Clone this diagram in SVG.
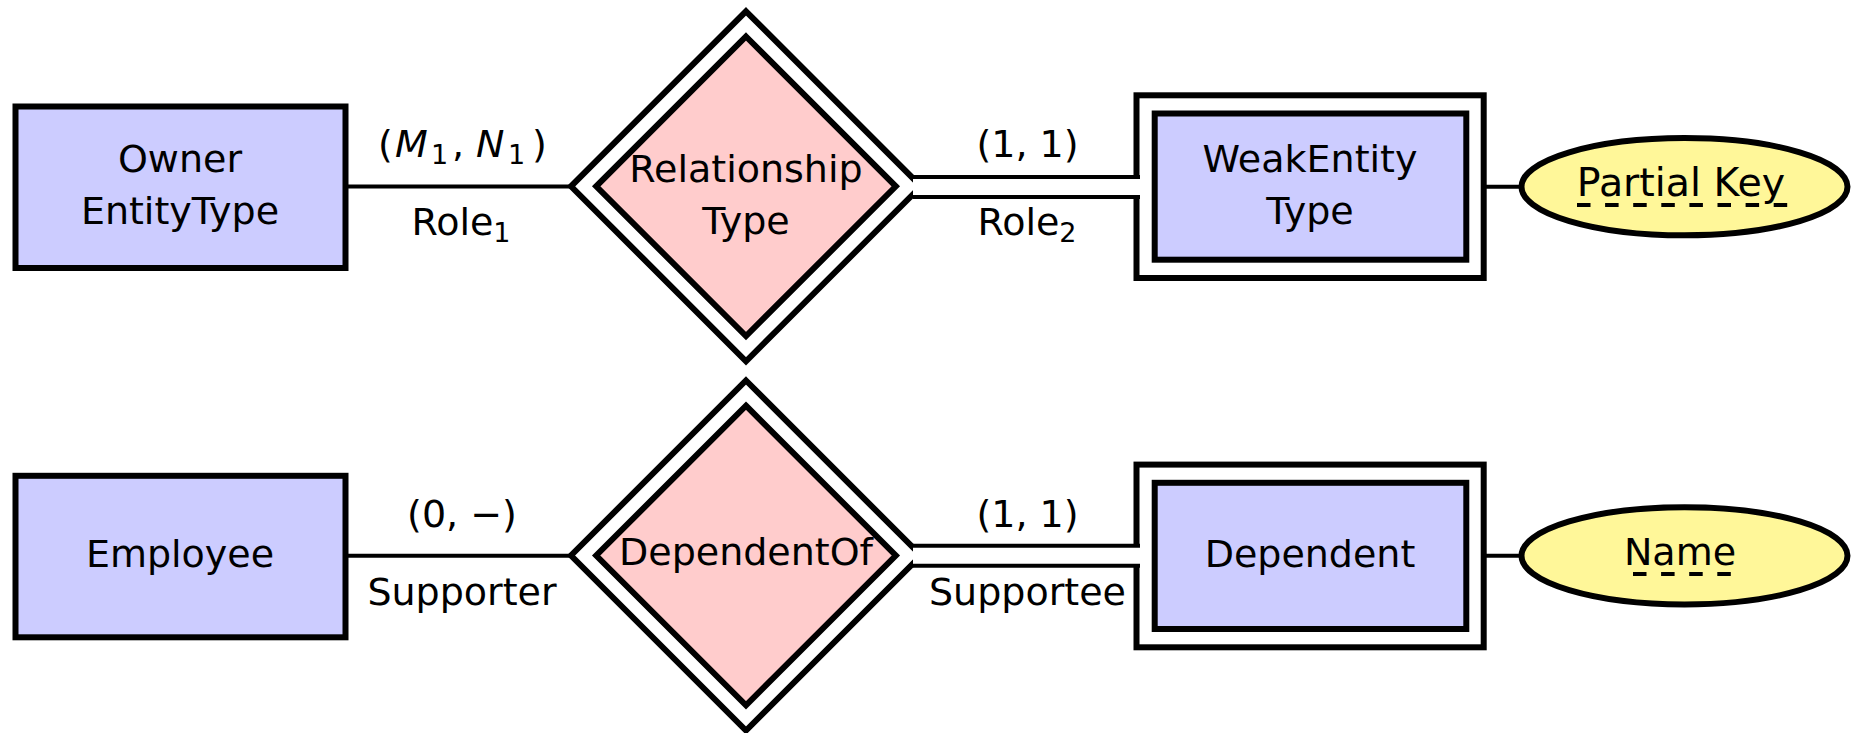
<svg xmlns="http://www.w3.org/2000/svg" width="1852" height="733" viewBox="0 0 1852 733">
<style>
  text { font-family: "DejaVu Sans", "Liberation Sans", sans-serif; font-size: 38px; fill: #000; }
  .mid { text-anchor: middle; }
  .sub { font-size: 27px; }
  .it { font-style: italic; }
  .key { font-size: 39.5px; }
  .entity { fill: #CCCCFF; stroke: #000; stroke-width: 6; }
  .weakouter { fill: #FFFFFF; stroke: #000; stroke-width: 6; }
  .rel { fill: #FFCCCC; stroke: #000; stroke-width: 6; stroke-linejoin: miter; stroke-miterlimit: 10; }
  .relouter { fill: #FFFFFF; stroke: #000; stroke-width: 6; stroke-linejoin: miter; stroke-miterlimit: 10; }
  .attr { fill: #FFF799; stroke: #000; stroke-width: 6; }
  .line { stroke: #000; stroke-width: 4; fill: none; }
  .dblk { stroke: #000; stroke-width: 24; fill: none; }
  .dblw { stroke: #FFFFFF; stroke-width: 16; fill: none; }
  .ul { stroke: #000; stroke-width: 4; stroke-dasharray: 13.5 14.6; fill: none; }
</style>

<!-- Top row -->
<g id="owner">
  <rect class="entity" x="15.5" y="106.5" width="330" height="161.5"/>
  <text class="mid" x="180" y="172">Owner</text>
  <text class="mid" x="180" y="224">EntityType</text>
</g>

<g id="relationship">
  <polygon class="relouter" points="746,11.3 921,186.3 746,361.3 571,186.3"/>
  <polygon class="rel" points="746,36.5 895.8,186.3 746,336.1 596.2,186.3"/>
  <text class="mid" x="746" y="182">Relationship</text>
  <text class="mid" x="746" y="233.5">Type</text>
</g>

<g id="weakentity">
  <rect class="weakouter" x="1136.5" y="95.3" width="347.2" height="182.7"/>
  <rect class="entity" x="1154.7" y="113.5" width="311.6" height="146.2"/>
  <text class="mid" x="1310" y="172">WeakEntity</text>
  <text class="mid" x="1310" y="224">Type</text>
</g>

<g id="partialkey">
  <ellipse class="attr" cx="1684.5" cy="186.7" rx="163" ry="48.6"/>
  <text class="mid key" x="1681" y="196">Partial Key</text>
  <line class="ul" x1="1577" y1="205" x2="1788" y2="205"/>
</g>

<!-- Bottom row -->
<g id="employee">
  <rect class="entity" x="15.5" y="475.8" width="330" height="161.5"/>
  <text class="mid" x="180" y="566.5">Employee</text>
</g>

<g id="dependentof">
  <polygon class="relouter" points="746,380.5 921,555.5 746,730.5 571,555.5"/>
  <polygon class="rel" points="746,405.7 895.8,555.5 746,705.3 596.2,555.5"/>
  <text class="mid" x="746" y="565">DependentOf</text>
</g>

<g id="dependent">
  <rect class="weakouter" x="1136.5" y="464.6" width="347.2" height="182.7"/>
  <rect class="entity" x="1154.7" y="482.8" width="311.6" height="146.2"/>
  <text class="mid" x="1310" y="566.5">Dependent</text>
</g>

<g id="name">
  <ellipse class="attr" cx="1684.5" cy="555.8" rx="163" ry="48.6"/>
  <text class="mid" x="1680" y="565">Name</text>
  <line class="ul" x1="1633" y1="574" x2="1732" y2="574"/>
</g>

<!-- Connectors -->
<g id="connectors">
  <line class="line" x1="348" y1="186.5" x2="570" y2="186.5"/>
  <line class="dblk" x1="913" y1="187" x2="1140" y2="187"/>
  <line class="dblw" x1="913" y1="187" x2="1141" y2="187"/>
  <line class="line" x1="1484" y1="186.7" x2="1522" y2="186.7"/>

  <line class="line" x1="348" y1="555.8" x2="570" y2="555.8"/>
  <line class="dblk" x1="913" y1="555.8" x2="1140" y2="555.8"/>
  <line class="dblw" x1="913" y1="555.8" x2="1141" y2="555.8"/>
  <line class="line" x1="1484" y1="555.8" x2="1522" y2="555.8"/>
</g>

<!-- Connector labels -->
<g id="labels">
  <text y="157"><tspan x="378">(</tspan><tspan class="it" x="395">M</tspan><tspan class="sub" x="431" dy="7">1</tspan><tspan x="452" dy="-7">,</tspan><tspan class="it" x="476">N</tspan><tspan class="sub" x="508" dy="7">1</tspan><tspan x="532" dy="-7">)</tspan></text>
  <text class="mid" x="461" y="235">Role<tspan class="sub" dy="7">1</tspan></text>
  <text class="mid" x="1027" y="235">Role<tspan class="sub" dy="7">2</tspan></text>
  <text class="mid" x="1027.5" y="157">(1, 1)</text>

  <text class="mid" x="462" y="526.5">(0, −)</text>
  <text class="mid" x="462" y="604.5">Supporter</text>
  <text class="mid" x="1027.5" y="526.5">(1, 1)</text>
  <text class="mid" x="1027.5" y="604.5">Supportee</text>
</g>
</svg>
